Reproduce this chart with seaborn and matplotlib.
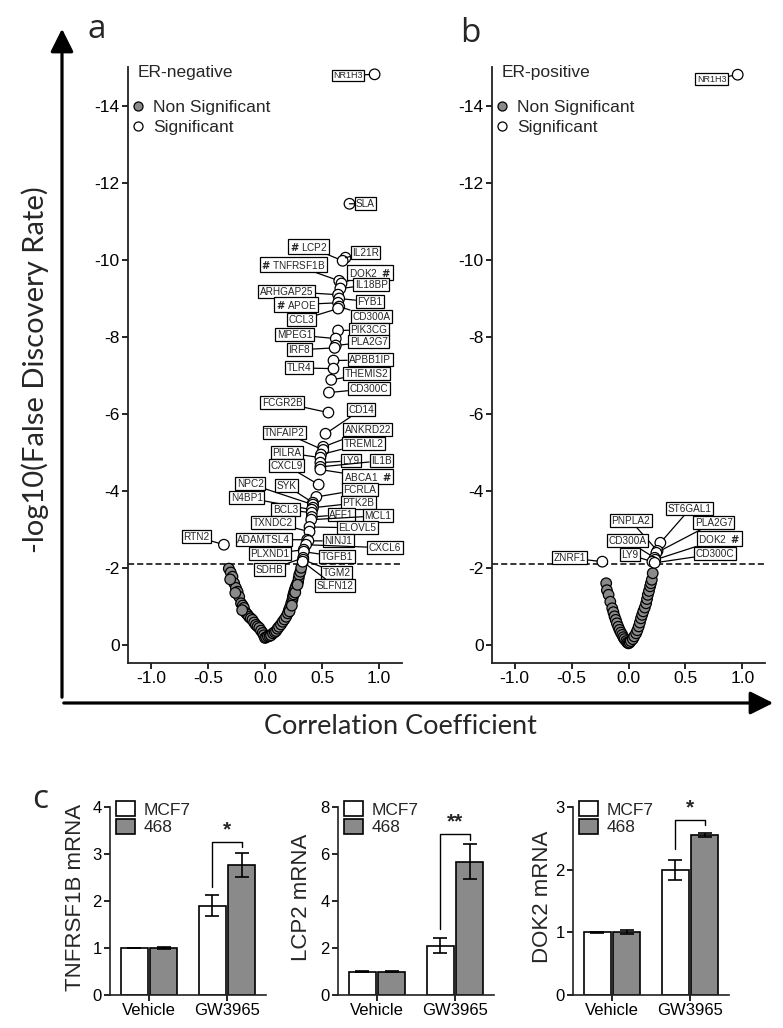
import numpy as np
import pandas as pd
import matplotlib
matplotlib.use("Agg")
import matplotlib.pyplot as plt
import seaborn as sns
from matplotlib.lines import Line2D
from matplotlib.patches import Patch, FancyArrowPatch

# ---------------- DATA ----------------
# Panel a: ER-negative, significant genes
neg_genes = ["NR1H3", "SLA", "IL21R", "LCP2", "TNFRSF1B", "DOK2", "IL18BP", "ARHGAP25",
             "FYB1", "APOE", "CD300A", "CCL3", "PIK3CG", "MPEG1", "PLA2G7", "IRF8",
             "APBB1IP", "TLR4", "THEMIS2", "CD300C", "FCGR2B", "CD14", "ANKRD22", "TNFAIP2",
             "TREML2", "PILRA", "LY9", "IL1B", "ABCA1", "CXCL9", "FCRLA", "SYK", "NPC2",
             "PTK2B", "N4BP1", "BCL3", "AFF1", "MCL1", "ELOVL5", "TXNDC2", "ADAMTSL4",
             "NINJ1", "CXCL6", "PLXND1", "TGFB1", "SDHB", "TGM2", "SLFN12", "RTN2"]
neg_r = [0.96, 0.74, 0.705, 0.68, 0.65, 0.67, 0.66, 0.64,
         0.65, 0.64, 0.65, 0.64, 0.64, 0.62, 0.62, 0.61,
         0.60, 0.60, 0.58, 0.56, 0.555, 0.53, 0.51, 0.51,
         0.49, 0.485, 0.485, 0.485, 0.485, 0.47, 0.45, 0.42, 0.42,
         0.42, 0.41, 0.41, 0.41, 0.405, 0.39, 0.39, 0.37,
         0.38, 0.36, 0.34, 0.34, 0.335, 0.335, 0.33, -0.36]
neg_fdr = [-14.81, -11.45, -10.05, -9.97, -9.45, -9.38, -9.25, -9.09,
           -8.99, -8.88, -8.78, -8.73, -8.16, -7.95, -7.77, -7.71,
           -7.38, -7.17, -6.88, -6.55, -6.03, -5.48, -5.14, -5.06,
           -4.94, -4.86, -4.73, -4.62, -4.55, -4.16, -3.84, -3.69, -3.64,
           -3.56, -3.51, -3.43, -3.32, -3.25, -3.06, -2.94, -2.73,
           -2.70, -2.60, -2.47, -2.42, -2.26, -2.21, -2.16, -2.60]
# Panel a: ER-negative, non-significant genes
neg_ns_r = [-0.317, -0.30, -0.285, -0.27, -0.255, -0.24, -0.226, -0.21, -0.195, -0.185,
            -0.167, -0.155, -0.14, -0.125, -0.11, -0.095, -0.08, -0.065, -0.05, -0.035,
            -0.02, -0.01, 0.0, 0.01, 0.025, 0.04, 0.053, 0.07, 0.085, 0.097, 0.11, 0.123,
            0.14, 0.155, 0.17, 0.185, 0.20, 0.21, 0.22, 0.23, 0.24, 0.245, 0.25, 0.256,
            0.262, 0.27, 0.28, 0.29, 0.295, 0.30, 0.31, 0.317, 0.215, 0.235, 0.265, 0.285,
            -0.305, -0.26, -0.20]
neg_ns_fdr = [-1.98, -1.88, -1.77, -1.60, -1.48, -1.38, -1.25, -1.08, -1.02, -0.96,
              -0.83, -0.79, -0.73, -0.69, -0.65, -0.58, -0.52, -0.48, -0.44, -0.37,
              -0.31, -0.25, -0.18, -0.20, -0.22, -0.23, -0.25, -0.30, -0.33, -0.36, -0.42, -0.47,
              -0.53, -0.60, -0.66, -0.73, -0.82, -0.91, -0.98, -1.08, -1.17, -1.25, -1.31, -1.38,
              -1.44, -1.51, -1.58, -1.64, -1.73, -1.82, -1.90, -2.00, -0.87, -1.02, -1.36, -1.56,
              -1.70, -1.35, -0.90]

# Panel b: ER-positive, significant genes
pos_genes = ["NR1H3", "ST6GAL1", "PNPLA2", "PLA2G7", "CD300A", "DOK2", "LY9", "CD300C", "ZNRF1"]
pos_r = [0.96, 0.28, 0.255, 0.245, 0.23, 0.235, 0.21, 0.23, -0.23]
pos_fdr = [-14.8, -2.65, -2.44, -2.39, -2.26, -2.21, -2.16, -2.13, -2.16]
# Panel b: ER-positive, non-significant genes
pos_ns_r = [-0.196, -0.19, -0.175, -0.16, -0.143, -0.133, -0.123, -0.112, -0.102, -0.09,
            -0.079, -0.067, -0.055, -0.045, -0.035, -0.02, -0.01, 0.0, 0.01, 0.02, 0.038,
            0.05, 0.067, 0.078, 0.09, 0.10, 0.11, 0.12, 0.13, 0.143, 0.155, 0.163, 0.17,
            0.18, 0.19, 0.197, 0.205, 0.213]
pos_ns_fdr = [-1.60, -1.42, -1.30, -1.12, -0.95, -0.85, -0.74, -0.65, -0.56, -0.47,
              -0.39, -0.32, -0.26, -0.20, -0.15, -0.10, -0.06, -0.04, -0.06, -0.10, -0.15,
              -0.22, -0.30, -0.38, -0.48, -0.58, -0.69, -0.78, -0.87, -0.97, -1.08, -1.19, -1.30,
              -1.40, -1.52, -1.60, -1.69, -1.86]

# genes tested by qPCR (marked with #)
hash_left = ["LCP2", "TNFRSF1B", "APOE"]
hash_right = ["DOK2", "ABCA1"]

fdr_threshold = -2.1

# Panel c: qPCR bars
treatments = ["Vehicle", "GW3965"]
cells = ["MCF7", "468"]
tnfrsf1b_mean = [1.00, 1.90, 1.00, 2.77]   # MCF7 veh, MCF7 GW, 468 veh, 468 GW
tnfrsf1b_err = [0.01, 0.22, 0.03, 0.25]
lcp2_mean = [1.00, 2.10, 1.00, 5.68]
lcp2_err = [0.01, 0.33, 0.03, 0.74]
dok2_mean = [1.00, 2.00, 1.00, 2.55]
dok2_err = [0.01, 0.16, 0.03, 0.03]
signif = ["*", "**", "*"]

# ---------------- LAYOUT ----------------
W, H = 783, 1028
label_pos_a = [(0.73, -14.78), (0.88, -11.45), (0.88, -10.18), (0.38, -10.34), (0.25, -9.87),
               (0.92, -9.66), (0.93, -9.35), (0.19, -9.17), (0.92, -8.91), (0.27, -8.83),
               (0.93, -8.52), (0.32, -8.44), (0.91, -8.18), (0.26, -8.05), (0.91, -7.87),
               (0.30, -7.66), (0.92, -7.40), (0.30, -7.19), (0.89, -7.04), (0.91, -6.65),
               (0.15, -6.29), (0.84, -6.10), (0.90, -5.58), (0.17, -5.51), (0.86, -5.22),
               (0.19, -4.99), (0.75, -4.78), (1.02, -4.78), (0.90, -4.36), (0.19, -4.65),
               (0.83, -4.03), (0.19, -4.13), (-0.13, -4.18), (0.82, -3.69), (-0.16, -3.82),
               (0.18, -3.51), (0.67, -3.38), (0.99, -3.35), (0.81, -3.04), (0.07, -3.17),
               (-0.01, -2.73), (0.64, -2.70), (1.05, -2.52), (0.04, -2.36), (0.63, -2.29),
               (0.04, -1.95), (0.63, -1.87), (0.61, -1.53), (-0.60, -2.81)]
label_pos_b = [(0.73, -14.68), (0.54, -3.53), (0.02, -3.22), (0.75, -3.17), (-0.01, -2.70),
               (0.80, -2.75), (0.01, -2.34), (0.76, -2.36), (-0.52, -2.26)]

GRAY = "#8a8a8a"

sns.set_theme(style="ticks")
plt.rcParams["font.family"] = ["Liberation Sans", "DejaVu Sans"]
plt.rcParams["axes.unicode_minus"] = False

fig = plt.figure(figsize=(W / 100, H / 100), dpi=100)


def fx(px):
    return px / W


def fy(py):
    return 1 - py / H


def volcano(ax, title, genes, r, fdr, ns_r, ns_fdr, label_pos):
    df = pd.DataFrame({
        "r": list(ns_r) + list(r),
        "fdr": list(ns_fdr) + list(fdr),
        "grp": ["Non Significant"] * len(ns_r) + ["Significant"] * len(r),
    })
    sns.scatterplot(data=df, x="r", y="fdr", hue="grp",
                    palette={"Non Significant": GRAY, "Significant": "white"},
                    edgecolor="black", linewidth=0.9, s=58, legend=False, ax=ax, zorder=3)
    ax.axhline(fdr_threshold, ls=(0, (4, 2)), lw=1.1, color="black", zorder=2)
    for g, x, y, (lx, ly) in zip(genes, r, fdr, label_pos):
        txt = g
        if g in hash_left:
            txt = r"$\mathbf{\#}$ " + g
        elif g in hash_right:
            txt = g + r"  $\mathbf{\#}$"
        ax.annotate(txt, xy=(x, y), xytext=(lx, ly), fontsize=7.2 if g != "NR1H3" else 6.5,
                    ha="center", va="center", zorder=4,
                    bbox=dict(boxstyle="square,pad=0.15", fc="white", ec="black", lw=0.9),
                    arrowprops=dict(arrowstyle="-", lw=0.9, color="black",
                                    shrinkA=0, shrinkB=3.8))
    ax.set_xlim(-1.2, 1.2)
    ax.set_ylim(0.47, -15.0)
    ax.set_xticks([-1.0, -0.5, 0.0, 0.5, 1.0])
    ax.set_xticklabels(["-1.0", "-0.5", "0.0", "0.5", "1.0"])
    ax.set_yticks(np.arange(-14, 1, 2))
    ax.set_xlabel("")
    ax.set_ylabel("")
    for s in ["top", "right"]:
        ax.spines[s].set_visible(False)
    for s in ["left", "bottom"]:
        ax.spines[s].set_linewidth(1.3)
        ax.spines[s].set_color("#222222")
    ax.tick_params(axis="both", direction="out", length=4, width=1.2, labelsize=12.5,
                   colors="black", pad=2)
    ax.text(0.036, 0.99, title, transform=ax.transAxes, fontsize=12.5, va="center", ha="left")
    handles = [Line2D([], [], marker="o", ls="", markerfacecolor=GRAY, markeredgecolor="black",
                      markersize=6.5, markeredgewidth=0.9, label="Non Significant"),
               Line2D([], [], marker="o", ls="", markerfacecolor="white", markeredgecolor="black",
                      markersize=6.5, markeredgewidth=0.9, label="Significant")]
    ax.legend(handles=handles, loc="upper left", bbox_to_anchor=(0.005, 0.945), frameon=False,
              fontsize=12.5, handlelength=1.0, handletextpad=0.35, labelspacing=0.3,
              borderaxespad=0, borderpad=0)


ax_a = fig.add_axes([fx(128), fy(663), (402 - 128) / W, (663 - 67) / H])
volcano(ax_a, "ER-negative", neg_genes, neg_r, neg_fdr, neg_ns_r, neg_ns_fdr, label_pos_a)
ax_b = fig.add_axes([fx(492), fy(663), (765 - 492) / W, (663 - 67) / H])
volcano(ax_b, "ER-positive", pos_genes, pos_r, pos_fdr, pos_ns_r, pos_ns_fdr, label_pos_b)

# Big arrows
fig.add_artist(FancyArrowPatch((fx(62), fy(700)), (fx(62), fy(26)), transform=fig.transFigure,
                               arrowstyle="-|>,head_length=0.7,head_width=0.35", mutation_scale=20,
                               lw=2.3, color="black"))
fig.add_artist(FancyArrowPatch((fx(61), fy(703)), (fx(776), fy(703)), transform=fig.transFigure,
                               arrowstyle="-|>,head_length=0.7,head_width=0.35", mutation_scale=20,
                               lw=2.3, color="black"))
fig.text(fx(35), fy(370), "-log10(False Discovery Rate)", rotation=90, ha="center", va="center",
         fontsize=21, family=["Lato", "DejaVu Sans"])
fig.text(fx(400), fy(726), "Correlation Coefficient", ha="center", va="center",
         fontsize=19.5, family=["Lato", "DejaVu Sans"])
for lab, (px, py) in zip(["a", "b", "c"], [(97, 30), (470, 33), (40, 800)]):
    fig.text(fx(px), fy(py), lab, ha="center", va="center", fontsize=24,
             family=["Open Sans", "DejaVu Sans"])

# Bar panels
bar_sets = [("TNFRSF1B mRNA", tnfrsf1b_mean, tnfrsf1b_err, 4, [0, 1, 2, 3, 4], (3.26, 2.30, 3.15), -0.155),
            ("LCP2 mRNA", lcp2_mean, lcp2_err, 8, [0, 2, 4, 6, 8], (6.85, 2.80, 6.60), -0.167),
            ("DOK2 mRNA", dok2_mean, dok2_err, 3, [0, 1, 2, 3], (2.79, 2.33, 2.71), -0.125)]
bar_left = [110, 338, 573]
for (ylab, means, errs, ymax, yt, (btop, bl, br), lx), left, star in zip(bar_sets, bar_left, signif):
    ax = fig.add_axes([fx(left), fy(995), 156 / W, (995 - 807) / H])
    df = pd.DataFrame({
        "treatment": [treatments[0], treatments[1], treatments[0], treatments[1]],
        "cell": [cells[0], cells[0], cells[1], cells[1]],
        "value": means,
    })
    sns.barplot(data=df, x="treatment", y="value", hue="cell", order=treatments,
                hue_order=cells, palette=["white", GRAY], edgecolor="black", linewidth=1.2,
                errorbar=None, width=0.76, gap=0.1, legend=False, ax=ax, zorder=2)
    centers = [p.get_x() + p.get_width() / 2 for p in ax.patches[:4]]
    ax.errorbar(centers, means, yerr=errs, fmt="none", ecolor="black", elinewidth=1.2,
                capsize=5, capthick=1.2, zorder=3)
    x0, x1 = centers[1], centers[3]
    ax.plot([x0, x0, x1, x1], [bl, btop, btop, br], color="black", lw=1.0, zorder=3)
    ax.text((x0 + x1) / 2, btop + ymax * 0.015, star, ha="center", va="bottom", fontsize=15,
            fontweight="bold")
    ax.set_xlim(-0.5, 1.5)
    ax.set_ylim(0, ymax)
    ax.set_yticks(yt)
    ax.set_xlabel("")
    ax.set_ylabel(ylab, fontsize=16)
    ax.yaxis.set_label_coords(lx, 0.52)
    for s in ["top", "right"]:
        ax.spines[s].set_visible(False)
    for s in ["left", "bottom"]:
        ax.spines[s].set_linewidth(1.2)
        ax.spines[s].set_color("#222222")
    ax.tick_params(axis="both", direction="out", length=4, width=1.2, labelsize=12,
                   colors="black", pad=2)
    handles = [Patch(facecolor="white", edgecolor="black", lw=1.2, label=cells[0]),
               Patch(facecolor=GRAY, edgecolor="black", lw=1.2, label=cells[1])]
    ax.legend(handles=handles, loc="upper left", bbox_to_anchor=(0.04, 1.03), frameon=False,
              fontsize=12.5, handlelength=1.1, handleheight=0.9, handletextpad=0.5,
              labelspacing=0.1, borderaxespad=0, borderpad=0)

fig.savefig("out.png", dpi=100)
